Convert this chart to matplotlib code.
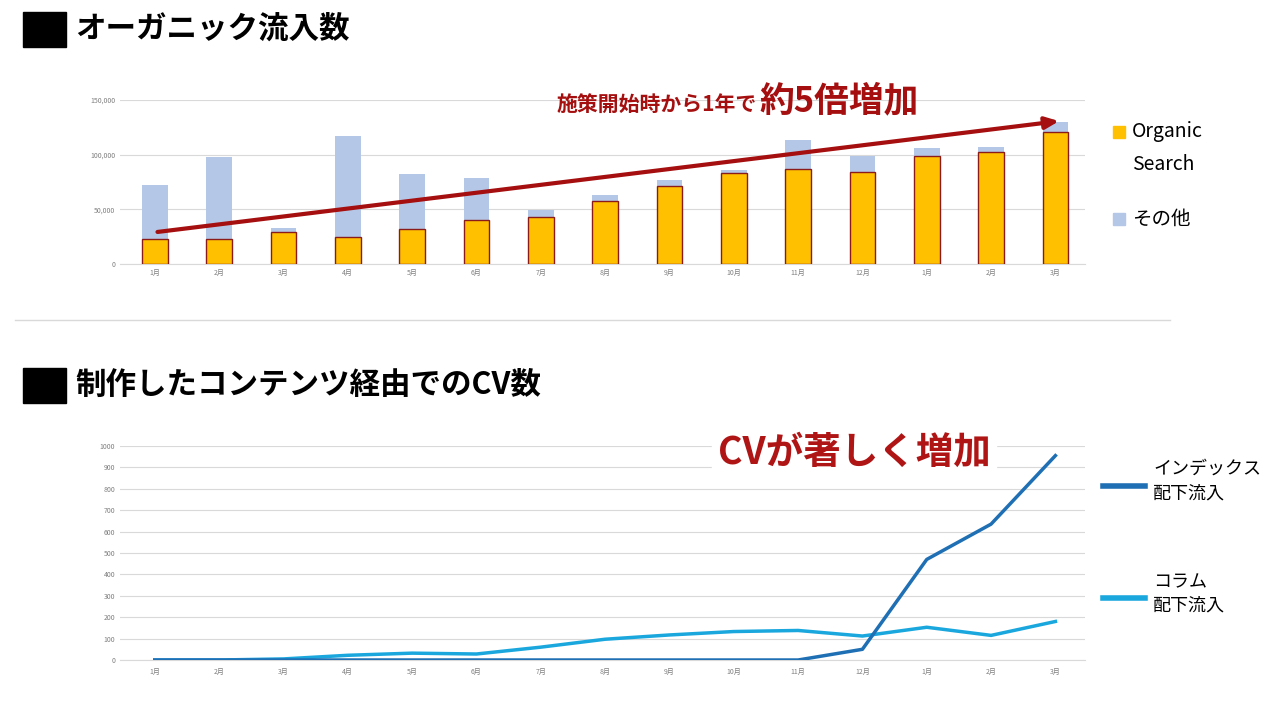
import matplotlib
matplotlib.use("Agg")
import matplotlib.pyplot as plt
from matplotlib.patches import Rectangle
from matplotlib.lines import Line2D

plt.rcParams['font.family'] = ['Noto Sans CJK JP', 'DejaVu Sans']

months = ["1月","2月","3月","4月","5月","6月","7月","8月","9月","10月","11月","12月","1月","2月","3月"]
organic = [23000,23000,29000,25000,32000,40000,43000,58000,71000,83000,87000,84000,99000,102000,121000]
total = [72000,98000,33000,117000,82000,79000,49000,63000,77000,86000,113000,99000,106000,107000,130000]
other = [t-o for t, o in zip(total, organic)]
cv_index = [0,0,0,0,0,0,0,0,0,0,0,50,470,635,955]
cv_column = [0,0,5,22,32,28,60,97,117,133,138,112,153,115,180]

fig = plt.figure(figsize=(12.8, 7.02), dpi=100)
W, H = 1280, 702
def fx(p): return p / W
def fy(p): return 1 - p / H

# Titles
for ytop, txt in [(12, "オーガニック流入数"), (368, "制作したコンテンツ経由でのCV数")]:
    fig.patches.append(Rectangle((fx(23), fy(ytop+35)), fx(43), 35/H, color="black", transform=fig.transFigure))
    fig.text(fx(75), fy(ytop+17), txt, fontsize=22, fontweight="bold", va="center")

fig.add_artist(Line2D([fx(15), fx(1170)], [fy(320), fy(320)], color="#d9d9d9", lw=1))

x = list(range(len(months)))
# Top chart
ax1 = fig.add_axes([fx(120), fy(264), fx(965), 164/H])
ax1.bar(x, organic, width=0.4, color="#FFC000", edgecolor="#8B1A1A", lw=1, zorder=3)
ax1.bar(x, other, bottom=organic, width=0.4, color="#B4C7E7", zorder=2)
ax1.set_xlim(-0.54, 14.46)
ax1.set_ylim(0, 150000)
ax1.set_yticks([0, 50000, 100000, 150000])
ax1.set_yticklabels(["0", "50,000", "100,000", "150,000"])
ax1.set_xticks(x)
ax1.set_xticklabels(months)
ax1.grid(axis="y", color="#d9d9d9", lw=0.8, zorder=0)
ax1.tick_params(length=0, labelsize=5, colors="#7f7f7f")
for s in ["top", "right", "left"]:
    ax1.spines[s].set_visible(False)
ax1.spines["bottom"].set_color("#d9d9d9")
ax1.annotate("", xy=(14.1, 131000), xytext=(0, 29000),
             arrowprops=dict(arrowstyle="-|>,head_length=0.8,head_width=0.35", color="#A50F0F", lw=3), zorder=5)
fig.patches.append(Rectangle((fx(490), fy(122)), fx(478), 40/H, color="white", transform=fig.transFigure, zorder=-1))
fig.text(fx(757), fy(104), "施策開始時から1年で", fontsize=15, fontweight="bold", color="#A50F0F",
         ha="right", va="center")
fig.text(fx(759), fy(101), "約5倍増加", fontsize=25, fontweight="bold", color="#A50F0F",
         ha="left", va="center")

# Legend top
fig.patches.append(Rectangle((fx(1113), fy(138)), fx(12), 12/H, color="#FFC000", transform=fig.transFigure))
fig.text(fx(1132), fy(132), "Organic", fontsize=14, va="center")
fig.text(fx(1132), fy(165), "Search", fontsize=14, va="center")
fig.patches.append(Rectangle((fx(1113), fy(225)), fx(12), 12/H, color="#B4C7E7", transform=fig.transFigure))
fig.text(fx(1132), fy(219), "その他", fontsize=14, va="center")

# Bottom chart
ax2 = fig.add_axes([fx(120), fy(660), fx(965), 214/H])
ax2.plot(x, cv_index, color="#1F6FB4", lw=2.5, zorder=3)
ax2.plot(x, cv_column, color="#1AA7DE", lw=2.5, zorder=2)
ax2.set_xlim(-0.54, 14.46)
ax2.set_ylim(0, 1000)
ax2.set_yticks(range(0, 1001, 100))
ax2.set_xticks(x)
ax2.set_xticklabels(months)
ax2.grid(axis="y", color="#d9d9d9", lw=0.8, zorder=0)
ax2.tick_params(axis="y", length=0, labelsize=5, colors="#7f7f7f")
ax2.tick_params(axis="x", length=0, labelsize=5, colors="#7f7f7f", pad=6)
for s in ["top", "right", "left"]:
    ax2.spines[s].set_visible(False)
ax2.spines["bottom"].set_color("#d9d9d9")
fig.text(fx(854), fy(452), "CVが著しく増加", fontsize=27, fontweight="bold", color="#B01515",
         ha="center", va="center", backgroundcolor="white")

fig.add_artist(Line2D([fx(1103), fx(1145)], [fy(486), fy(486)], color="#1F6FB4", lw=4))
fig.text(fx(1153), fy(469), "インデックス", fontsize=13, va="center")
fig.text(fx(1153), fy(494), "配下流入", fontsize=13, va="center")
fig.add_artist(Line2D([fx(1103), fx(1145)], [fy(598), fy(598)], color="#1AA7DE", lw=4))
fig.text(fx(1153), fy(582), "コラム", fontsize=13, va="center")
fig.text(fx(1153), fy(606), "配下流入", fontsize=13, va="center")

fig.savefig("out.png", dpi=100, facecolor="white")
